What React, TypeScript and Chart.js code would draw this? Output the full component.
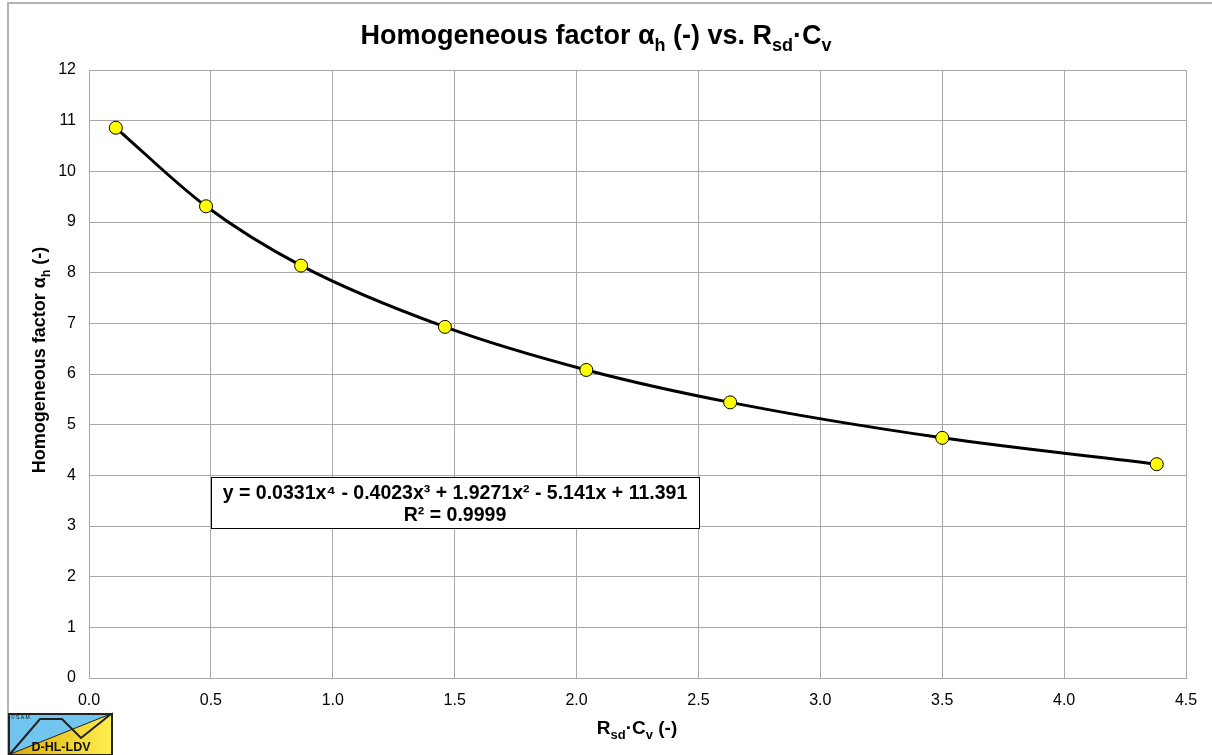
import React, { useEffect, useRef } from "react";
import { Chart, registerables } from "chart.js";

Chart.register(...registerables);

const xValues = [0.11, 0.48, 0.87, 1.46, 2.04, 2.63, 3.5, 4.38];
const yValues = [10.86, 9.31, 8.14, 6.93, 6.08, 5.44, 4.74, 4.22];
const equationLine1 = "y = 0.0331x⁴ - 0.4023x³ + 1.9271x² - 5.141x + 11.391";
const equationLine2 = "R² = 0.9999";

const FONT = "'Liberation Sans', Arial, sans-serif";

type Seg = { t: string; sub?: boolean };

function drawRich(ctx: CanvasRenderingContext2D, segs: Seg[], x: number, y: number, size: number, subSize: number, subDy: number) {
  let total = 0;
  for (const s of segs) {
    ctx.font = `bold ${s.sub ? subSize : size}px ${FONT}`;
    total += ctx.measureText(s.t).width;
  }
  let cx = x - total / 2;
  ctx.textAlign = "left";
  ctx.textBaseline = "alphabetic";
  for (const s of segs) {
    ctx.font = `bold ${s.sub ? subSize : size}px ${FONT}`;
    ctx.fillText(s.t, cx, s.sub ? y + subDy : y);
    cx += ctx.measureText(s.t).width;
  }
}

const decorPlugin = {
  id: "decor",
  beforeDraw(chart: any) {
    const ctx = chart.ctx as CanvasRenderingContext2D;
    ctx.save();
    ctx.fillStyle = "#fff";
    ctx.fillRect(0, 0, chart.width, chart.height);
    ctx.strokeStyle = "#b4b4b4";
    ctx.lineWidth = 2;
    ctx.beginPath();
    ctx.moveTo(8, 755);
    ctx.lineTo(8, 3);
    ctx.lineTo(1212, 3);
    ctx.stroke();
    ctx.restore();
  },
  afterDraw(chart: any) {
    const ctx = chart.ctx as CanvasRenderingContext2D;
    ctx.save();
    ctx.fillStyle = "#000";
    // Title
    drawRich(
      ctx,
      [
        { t: "Homogeneous factor α" },
        { t: "h", sub: true },
        { t: " (-) vs. R" },
        { t: "sd", sub: true },
        { t: "·C" },
        { t: "v", sub: true },
      ],
      596,
      44,
      27,
      18,
      7
    );
    // X title
    drawRich(
      ctx,
      [{ t: "R" }, { t: "sd", sub: true }, { t: "·C" }, { t: "v", sub: true }, { t: " (-)" }],
      637,
      734,
      19,
      13,
      5
    );
    // Y title
    ctx.save();
    ctx.translate(45, 360);
    ctx.rotate(-Math.PI / 2);
    drawRich(ctx, [{ t: "Homogeneous factor α" }, { t: "h", sub: true }, { t: " (-)" }], 0, 0, 18, 12, 5);
    ctx.restore();

    // Equation box
    ctx.fillStyle = "#fff";
    ctx.fillRect(212, 478, 488, 51);
    ctx.strokeStyle = "#000";
    ctx.lineWidth = 1;
    ctx.strokeRect(211.5, 477.5, 488, 51);
    ctx.fillStyle = "#000";
    ctx.font = `bold 19.5px ${FONT}`;
    ctx.textAlign = "center";
    ctx.textBaseline = "middle";
    ctx.fillText(equationLine1, 455, 494);
    ctx.fillText(equationLine2, 455, 516);

    // Logo
    const L = 8, T = 713, R = 113, B = 755;
    ctx.fillStyle = "#72c5ef";
    ctx.fillRect(L, T, R - L, B - T);
    const g = ctx.createLinearGradient(L, 0, R, 0);
    g.addColorStop(0, "#d9a800");
    g.addColorStop(1, "#fff050");
    ctx.fillStyle = g;
    ctx.beginPath();
    ctx.moveTo(L, B);
    ctx.lineTo(R, T);
    ctx.lineTo(R, B);
    ctx.closePath();
    ctx.fill();
    ctx.strokeStyle = "#222";
    ctx.lineWidth = 1;
    ctx.beginPath();
    ctx.moveTo(L, B);
    ctx.lineTo(R, T);
    ctx.stroke();
    ctx.lineWidth = 2;
    ctx.beginPath();
    ctx.moveTo(L + 2, B - 1);
    ctx.lineTo(40, 719);
    ctx.lineTo(62, 719);
    ctx.lineTo(81, 738);
    ctx.lineTo(R - 2, T + 1);
    ctx.stroke();
    ctx.lineWidth = 2;
    ctx.strokeRect(L + 1, T + 1, R - L - 2, B - T - 1);
    ctx.fillStyle = "#111";
    ctx.font = `bold 12.5px ${FONT}`;
    ctx.textAlign = "center";
    ctx.textBaseline = "middle";
    ctx.fillText("D-HL-LDV", 61, 748);
    ctx.font = `5px ${FONT}`;
    ctx.textAlign = "left";
    ctx.fillText("© S.A.M.", 11, 718);
    ctx.restore();
  },
};

export default function App() {
  const ref = useRef<HTMLCanvasElement | null>(null);
  useEffect(() => {
    if (!ref.current) return;
    const chart = new Chart(ref.current, {
      type: "scatter",
      data: {
        datasets: [
          {
            data: xValues.map((x, i) => ({ x, y: yValues[i] })),
            showLine: true,
            borderColor: "#000",
            borderWidth: 3,
            cubicInterpolationMode: "monotone",
            pointRadius: 6.5,
            pointHoverRadius: 6.5,
            pointBackgroundColor: "#ffff00",
            pointBorderColor: "#000",
            pointBorderWidth: 1,
          } as any,
        ],
      },
      options: {
        responsive: false,
        animation: false,
        layout: { padding: { left: 0, top: 70, right: 26, bottom: 0 } },
        plugins: { legend: { display: false }, title: { display: false }, tooltip: { enabled: false } },
        scales: {
          x: {
            type: "linear",
            min: 0,
            max: 4.5,
            afterFit: (s: any) => {
              s.height = 77;
            },
            border: { color: "#a8a8a8", width: 1 },
            grid: { color: "#a8a8a8", lineWidth: 1, drawTicks: false },
            ticks: {
              stepSize: 0.5,
              padding: 13,
              color: "#000",
              font: { family: FONT, size: 16 },
              callback: (v: any) => Number(v).toFixed(1),
            },
          },
          y: {
            type: "linear",
            min: 0,
            max: 12,
            afterFit: (s: any) => {
              s.width = 89;
            },
            border: { color: "#a8a8a8", width: 1 },
            grid: { color: "#a8a8a8", lineWidth: 1, drawTicks: false },
            ticks: {
              stepSize: 1,
              padding: 13,
              color: "#000",
              font: { family: FONT, size: 16 },
            },
          },
        },
      },
      plugins: [decorPlugin],
    });
    return () => chart.destroy();
  }, []);
  return (
    <div style={{ position: "absolute", left: 0, top: 0, width: 1212, height: 755 }}>
      <canvas ref={ref} width={1212} height={755} style={{ display: "block" }} />
    </div>
  );
}
